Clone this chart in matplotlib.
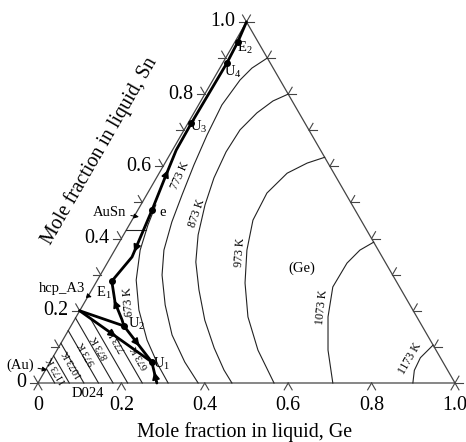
import numpy as np
import matplotlib.pyplot as plt

plt.rcParams['font.family'] = ['Liberation Serif', 'DejaVu Serif']
plt.rcParams['mathtext.fontset'] = 'custom'
plt.rcParams['mathtext.rm'] = 'Liberation Serif'
plt.rcParams['mathtext.default'] = 'regular'

R3 = np.sqrt(3) / 2

# all compositions are (x_Ge, x_Sn) mole fractions in the liquid
iso_673 = [(0.036, 0.493), (0.045, 0.437), (0.061, 0.368), (0.093, 0.285), (0.141, 0.202),
           (0.202, 0.119), (0.263, 0.050), (0.312, 0.0)]
iso_773 = [(0.10, 0.90), (0.077, 0.872), (0.065, 0.839), (0.056, 0.770), (0.062, 0.687),
           (0.072, 0.604), (0.085, 0.521), (0.098, 0.446), (0.118, 0.368), (0.148, 0.299),
           (0.197, 0.216), (0.255, 0.133), (0.323, 0.058), (0.384, 0.0)]
iso_873 = [(0.20, 0.80), (0.173, 0.781), (0.151, 0.748), (0.134, 0.701), (0.131, 0.640),
           (0.138, 0.568), (0.154, 0.493), (0.179, 0.410), (0.211, 0.335), (0.257, 0.258),
           (0.313, 0.174), (0.374, 0.097), (0.428, 0.036), (0.465, 0.0)]
iso_973 = [(0.375, 0.625), (0.341, 0.609), (0.307, 0.581), (0.286, 0.526), (0.290, 0.451),
           (0.317, 0.368), (0.358, 0.277), (0.412, 0.183), (0.482, 0.091), (0.566, 0.0)]
iso_1073 = [(0.610, 0.390), (0.588, 0.368), (0.575, 0.332), (0.574, 0.266), (0.604, 0.183),
            (0.650, 0.091), (0.707, 0.0)]
iso_1173 = [(0.895, 0.105), (0.882, 0.070), (0.885, 0.035), (0.899, 0.0)]
ge_field_isos = [iso_673, iso_773, iso_873, iso_973, iso_1073, iso_1173]
ge_field_names = ['673 K', '773 K', '873 K', '973 K', '1073 K', '1173 K']
ge_field_label_pos = [(0.106, 0.224), (0.052, 0.576), (0.146, 0.471), (0.303, 0.363),
                      (0.576, 0.210), (0.858, 0.069)]
ge_field_label_rot = [95, 66, 71, 86, 84, 60]

# isotherms in the (Au) field: bottom end on Au-Ge side, upper end
au_iso_bottom = [(0.04, 0.0), (0.075, 0.0), (0.11, 0.0), (0.145, 0.0), (0.18, 0.0),
                 (0.215, 0.0), (0.25, 0.0)]
au_iso_top = [(0.0, 0.04), (0.0, 0.075), (0.0, 0.11), (0.0, 0.145), (0.0, 0.18),
              (0.036, 0.179), (0.12, 0.130)]
au_names = ['1173 K', '1073 K', '973 K', '873 K', '773 K', '673 K']
au_label_pos = [(0.028, 0.036), (0.058, 0.053), (0.078, 0.083), (0.101, 0.100),
                (0.130, 0.119), (0.209, 0.072)]

# univariant valleys
valley_top = [(0.0, 1.0), (0.007, 0.944), (0.010, 0.886), (0.008, 0.720), (0.009, 0.645),
              (0.020, 0.570), (0.034, 0.479), (0.051, 0.349), (0.036, 0.282)]
valley_u2_e1 = [(0.127, 0.158), (0.114, 0.175), (0.074, 0.222), (0.036, 0.282)]
valley_l_u2 = [(0.0, 0.20), (0.127, 0.158)]
valley_l_u1 = [(0.0, 0.20), (0.244, 0.058)]
valley_u2_u1 = [(0.127, 0.158), (0.244, 0.058)]
valley_u1_end = [(0.244, 0.058), (0.285, 0.0)]
valleys = [valley_top, valley_u2_e1, valley_l_u2, valley_l_u1, valley_u2_u1, valley_u1_end]
# arrows: (valley index, segment, fraction, direction)
arrows = [(0, 4, 0.9, -1), (0, 6, 0.8, 1), (1, 1, 0.9, 1), (3, 0, 0.45, 1),
          (4, 0, 0.45, 1), (5, 0, 0.7, -1)]

# thin boundary of the AuSn field
ausn_boundary = [(0.0, 0.424), (0.046, 0.424)]

points = ['E$_2$', 'U$_4$', 'U$_3$', 'e', 'E$_1$', 'U$_2$', 'U$_1$']
point_comp = [(0.007, 0.944), (0.010, 0.886), (0.008, 0.720), (0.034, 0.479),
              (0.036, 0.282), (0.127, 0.158), (0.244, 0.058)]
point_label_pos = [(0.032, 0.928), (0.037, 0.861), (0.031, 0.709), (0.061, 0.4735),
                   (0.034, 0.249), (0.156, 0.163), (0.271, 0.0526)]

phases = ['AuSn', 'hcp_A3', '(Au)']
phase_text = [(-0.064, 0.4735), (-0.074, 0.263), (-0.068, 0.050)]
phase_target = [(0.012, 0.460), (0.010, 0.238), (0.004, 0.036)]

ge_ticks = [0, 0.2, 0.4, 0.6, 0.8, 1.0]
ge_tick_labels = ['0', '0.2', '0.4', '0.6', '0.8', '1.0']
sn_ticks = [0, 0.2, 0.4, 0.6, 0.8, 1.0]
sn_tick_labels = ['0', '0.2', '0.4', '0.6', '0.8', '1.0']
minor = np.round(np.arange(0, 1.01, 0.1), 2)


def xy(pts):
    a = np.asarray(pts, float)
    return a[:, 0] + a[:, 1] / 2, a[:, 1] * R3


def pxy(ge, sn):
    return ge + sn / 2, sn * R3


fig = plt.figure(figsize=(4.66, 4.42), dpi=100)
ax = fig.add_axes([0, 0, 1, 1])
ax.set_xlim(-0.0911, 1.0264)
ax.set_ylim(-0.1415, 0.9185)
ax.axis('off')

edge = '#444444'
x, y = xy([(0, 0), (1, 0), (0, 1), (0, 0)])
ax.plot(x, y, color=edge, lw=0.9)

tl = 0.019
def tick(ge, sn, angles):
    x0, y0 = pxy(ge, sn)
    for a in angles:
        r = np.deg2rad(a)
        ax.plot([x0, x0 + tl * np.cos(r)], [y0, y0 + tl * np.sin(r)], color=edge, lw=0.8)

for g in ge_ticks:
    tick(g, 0, (240, 300))
for s in minor:
    tick(0, s, (180, 120))
    tick(1 - s, s, (0, 60))

for g, lab in zip(ge_ticks, ge_tick_labels):
    x0, y0 = pxy(g, 0)
    ax.text(x0, y0 - 0.053, lab, ha='center', va='center', fontsize=14.4)
for s, lab in zip(sn_ticks, sn_tick_labels):
    x0, y0 = pxy(0, s)
    ax.text(x0 - 0.028, y0, lab, ha='right', va='center', fontsize=14.4)

ax.text(0.496, -0.117, 'Mole fraction in liquid, Ge', ha='center', va='center', fontsize=14.4)
ax.text(0.147, 0.556, 'Mole fraction in liquid, Sn', ha='center', va='center',
        fontsize=14.4, rotation=60, rotation_mode='anchor')

for iso, name, pos, rot in zip(ge_field_isos, ge_field_names, ge_field_label_pos, ge_field_label_rot):
    x, y = xy(iso)
    ax.plot(x, y, color='#222', lw=0.8)
    ax.text(*pxy(*pos), name, fontsize=8.5, rotation=rot, ha='center', va='center',
            rotation_mode='anchor')

for b, t in zip(au_iso_bottom, au_iso_top):
    x, y = xy([b, t])
    ax.plot(x, y, color='#222', lw=0.8)
for name, pos in zip(au_names, au_label_pos):
    ax.text(*pxy(*pos), name, fontsize=7.5, rotation=120, ha='center', va='center',
            rotation_mode='anchor')

x, y = xy(ausn_boundary)
ax.plot(x, y, color='#222', lw=0.8)

for v in valleys:
    x, y = xy(v)
    ax.plot(x, y, color='black', lw=2.0, solid_capstyle='round')

for vi, seg, f, d in arrows:
    x, y = xy(valleys[vi])
    x0, y0 = x[seg] + f * (x[seg + 1] - x[seg]), y[seg] + f * (y[seg + 1] - y[seg])
    dx, dy = x[seg + 1] - x[seg], y[seg + 1] - y[seg]
    n = np.hypot(dx, dy)
    dx, dy = d * dx / n * 0.012, d * dy / n * 0.012
    ax.annotate('', xy=(x0 + dx, y0 + dy), xytext=(x0 - dx, y0 - dy),
                arrowprops=dict(arrowstyle='-|>', color='black', lw=1.2, mutation_scale=11,
                                shrinkA=0, shrinkB=0))

x, y = xy(point_comp)
ax.plot(x, y, 'o', color='black', ms=4)
for name, pos in zip(points, point_label_pos):
    ax.text(*pxy(*pos), name, fontsize=10.5, ha='center', va='center')

for name, tp, tg in zip(phases, phase_text, phase_target):
    ax.annotate(name, xy=pxy(*tg), xytext=pxy(*tp), fontsize=10.5, ha='center', va='center',
                arrowprops=dict(arrowstyle='-|>', color='black', lw=0.7, mutation_scale=7,
                                shrinkA=1, shrinkB=0))
ax.text(*pxy(0.134, -0.028), 'D024', fontsize=10.5, ha='center', va='center')
ax.text(*pxy(0.474, 0.318), '(Ge)', fontsize=10.5, ha='center', va='center')

fig.savefig('out.png', dpi=100)
